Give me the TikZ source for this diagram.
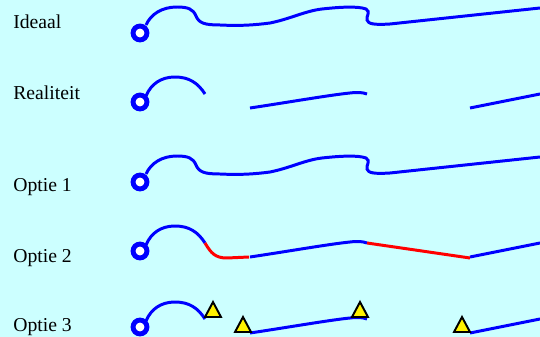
\documentclass[tikz,border=0pt]{standalone}
\usepackage{fontspec}
\setmainfont{Liberation Serif}
\usepackage{xcolor}
\definecolor{bgcyan}{HTML}{CCFFFF}

\begin{document}
\begin{tikzpicture}[x=0.02cm,y=-0.02cm,
  wire/.style={draw=blue,line width=1.7pt},
  fix/.style={draw=red,line width=1.7pt},
  plug/.style={circle,draw=blue,fill=white,line width=2.8pt,inner sep=0pt,minimum size=7.9pt},
  warn/.style={draw=black,fill=yellow,line width=1.1pt,line join=miter},
  lbl/.style={anchor=base west,inner sep=0pt,font=\fontsize{11.2}{13}\selectfont}]
  \fill[bgcyan] (0,0) rectangle (540,337);
  \useasboundingbox (0,0) rectangle (540,337);
  % labels
  \node[lbl] (ideaal) at (13,29) {Ideaal};
  \node[lbl] (real) at (13,100) {Realiteit};
  \node[lbl] (opt1) at (13,192) {Optie 1};
  \node[lbl] (opt2) at (13,262) {Optie 2};
  \node[lbl] (opt3) at (13,331) {Optie 3};
  % ideal cable, also used for option 1
  \foreach \dy in {0,149} {
    \draw[wire,shift={(0,\dy)}] (146,25) .. controls (151,14) and (162,7) .. (177,7)
      .. controls (188,7) and (193,9) .. (196,16) .. controls (199,23) and (204,25) .. (220,25)
      .. controls (240,26) and (255,25) .. (270,23) .. controls (290,19) and (305,11) .. (322,9)
      .. controls (340,7) and (358,6) .. (366,9) .. controls (371,12) and (366,16) .. (367,20)
      .. controls (368,24) and (374,25) .. (390,24) -- (540,8);
    \node[plug] (p\dy) at (140,{33+\dy}) {};
  }
  % broken cable, used for reality, option 2 and option 3
  \foreach \dy in {0,149,225} {
    \draw[wire,shift={(0,\dy)}] (146,96) .. controls (151,84) and (161,77) .. (175,77)
      .. controls (189,77) and (198,83) .. (205,94);
    \draw[wire,shift={(0,\dy)}] (250,108) .. controls (290,102) and (330,95) .. (350,93)
      .. controls (358,92) and (363,92.5) .. (367,94);
    \draw[wire,shift={(0,\dy)}] (470,108) -- (540,94);
    \node[plug] (q\dy) at (140,{102+\dy}) {};
  }
  % option 2: repaired pieces
  \draw[fix] (205,243) .. controls (211,253) and (215,258) .. (227,258) -- (249,257);
  \draw[fix] (367,243) -- (470,258);
  % option 3: markers
  \foreach \x/\y in {213/317,243/332,360/317,462/332}
    \draw[warn] (\x,\y) ++(-8,0) -- ++(8,-15) -- ++(8,15) -- cycle;
\end{tikzpicture}
\end{document}
